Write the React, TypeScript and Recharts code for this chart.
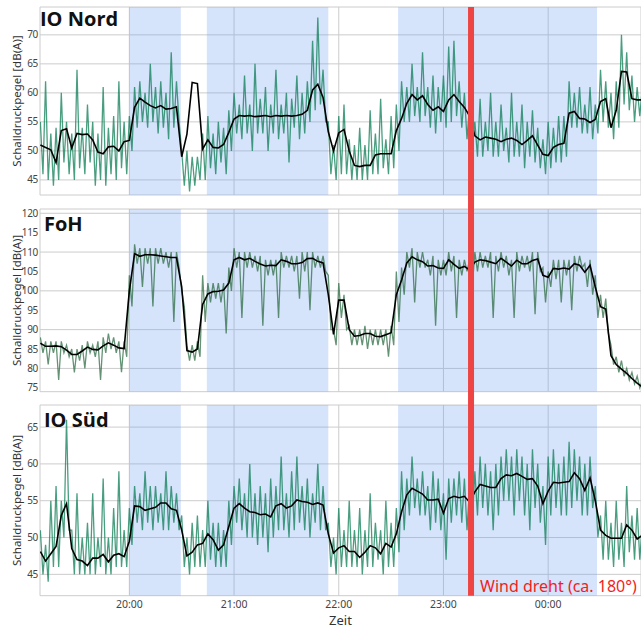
import {
  CartesianGrid,
  ComposedChart,
  Label,
  Line,
  ReferenceArea,
  ReferenceLine,
  XAxis,
  YAxis,
} from "recharts";

// time in minutes after 19:00
const avgStart = 9;
const avgStep = 3;
const rawStep = 1.5;

const xTicks = [60, 120, 180, 240, 300];
const xTickLabels = ["20:00", "21:00", "22:00", "23:00", "00:00"];
const busyPeriods = [
  [60, 89.5],
  [104.4, 174],
  [214, 328],
];
const windTurn = 255.8;
const windText = "Wind dreht (ca. 180°)";

const nordTicks = [45, 50, 55, 60, 65, 70];
const fohTicks = [75, 80, 85, 90, 95, 100, 105, 110, 115, 120];
const suedTicks = [45, 50, 55, 60, 65];

// smoothed level, every 3 min from 19:09
const nordAvg = [
  51.0, 50.6, 50.2, 48.0, 53.5, 53.8, 50.5, 53.0, 52.8, 52.9,
  51.9, 49.8, 49.5, 50.7, 50.8, 50.0, 51.6, 51.8, 57.5, 59.1,
  58.4, 57.8, 57.4, 57.8, 57.2, 57.3, 57.6, 49.0, 52.9, 61.8,
  61.6, 50.3, 51.9, 50.6, 50.5, 51.1, 53.2, 55.5, 56.1, 56.0,
  56.1, 55.9, 56.0, 56.1, 55.9, 56.1, 56.0, 56.1, 56.0, 56.1,
  56.3, 57.0, 60.5, 61.5, 59.2, 53.3, 50.0, 53.1, 53.7, 50.0,
  47.5, 47.3, 47.5, 47.5, 49.3, 49.5, 49.5, 49.5, 53.5, 55.6,
  58.2, 59.7, 58.8, 59.5, 58.0, 57.0, 57.6, 56.8, 58.8, 59.7,
  58.5, 57.5, 56.0, 52.6, 51.9, 52.4, 52.2, 52.0, 51.6, 52.0,
  52.2, 51.8, 51.1, 51.8, 52.6, 51.0, 49.4, 49.2, 50.6, 51.1,
  51.3, 56.5, 56.8, 55.6, 55.5, 54.9, 55.4, 58.5, 59.0, 54.0,
  57.0, 63.7, 63.6, 59.0, 58.8, 58.8,
];
const fohAvg = [
  86.5, 85.7, 85.7, 85.8, 85.6, 84.7, 83.6, 83.6, 84.5, 85.5,
  84.9, 84.8, 85.8, 86.6, 86.0, 85.3, 85.1, 100.0, 109.6, 108.9,
  109.3, 109.3, 109.2, 109.0, 108.8, 108.6, 108.6, 101.0, 84.6, 84.2,
  85.0, 96.5, 99.2, 99.8, 99.9, 100.2, 102.0, 108.0, 108.6, 108.0,
  108.4, 107.6, 106.9, 106.4, 106.6, 106.5, 108.0, 107.6, 107.0, 107.0,
  107.3, 108.3, 108.4, 107.6, 107.2, 99.0, 88.8, 97.6, 97.6, 90.0,
  88.3, 88.5, 89.0, 89.0, 88.3, 88.2, 88.7, 89.2, 99.0, 102.8,
  107.2, 108.8, 108.0, 107.5, 106.4, 106.5, 105.9, 105.8, 108.0, 106.8,
  105.8, 106.3, 105.4, 107.4, 108.0, 107.8, 107.4, 107.0, 108.4, 107.4,
  106.4, 107.9, 107.0, 107.0, 107.8, 108.2, 104.0, 103.5, 105.8, 105.6,
  105.9, 105.6, 107.0, 106.6, 104.8, 106.6, 101.0, 95.9, 95.3, 83.3,
  81.0, 79.8, 78.7, 77.4, 76.2, 75.2,
];
const suedAvg = [
  48.1, 46.8, 47.8, 48.8, 53.0, 54.6, 48.5, 47.0, 46.8, 46.2,
  47.2, 47.2, 47.7, 46.7, 47.6, 47.8, 47.4, 49.5, 54.3, 54.2,
  53.7, 53.9, 54.1, 54.7, 54.7, 53.9, 53.7, 51.0, 47.5, 48.0,
  49.0, 49.2, 50.5, 49.7, 48.3, 49.0, 51.5, 54.0, 54.6, 54.0,
  53.5, 53.4, 53.1, 53.2, 52.8, 54.3, 54.6, 54.0, 54.3, 55.1,
  54.9, 54.8, 54.5, 54.7, 54.4, 50.5, 47.9, 48.6, 48.9, 48.1,
  48.1, 47.3, 48.0, 48.9, 48.6, 47.8, 49.2, 48.7, 50.5, 53.5,
  55.8, 56.7, 56.3, 55.9, 55.1, 55.1, 55.2, 53.3, 55.3, 55.6,
  55.4, 55.6, 54.8, 56.2, 57.2, 57.0, 56.8, 56.8, 58.0, 58.5,
  58.4, 58.7, 58.3, 57.9, 58.0, 57.0, 54.6, 56.3, 57.5, 57.4,
  57.5, 57.6, 58.8, 58.0, 56.4, 58.1, 55.0, 51.0, 50.3, 49.9,
  49.9, 49.9, 51.7, 51.0, 49.8, 50.3,
];

// raw level, every 1.5 min from 19:09
const nordRaw = [
  55, 46, 62, 45, 53, 44, 54, 45, 60, 48, 55, 46, 53, 45, 64, 47, 54, 46, 58, 48,
  55, 44, 53, 45, 61, 44, 54, 46, 56, 45, 62, 47, 55, 46, 56, 50, 61, 54, 62, 55,
  60, 54, 65, 55, 61, 53, 62, 54, 60, 52, 67, 54, 62, 55, 50, 44, 50, 43, 49, 44,
  49, 45, 53, 45, 56, 47, 53, 46, 55, 48, 54, 46, 57, 50, 60, 53, 58, 52, 63, 53,
  58, 50, 65, 53, 59, 53, 61, 50, 58, 53, 64, 52, 58, 53, 60, 48, 59, 54, 63, 52,
  60, 53, 62, 55, 69, 57, 73, 58, 64, 55, 55, 46, 51, 45, 56, 46, 58, 46, 52, 45,
  51, 45, 54, 45, 51, 45, 57, 46, 53, 46, 59, 47, 52, 46, 56, 47, 58, 50, 62, 55,
  61, 55, 65, 56, 61, 55, 67, 56, 61, 54, 63, 53, 61, 55, 63, 54, 68, 55, 69, 56,
  62, 54, 60, 52, 58, 51, 55, 49, 59, 49, 55, 50, 60, 49, 55, 49, 58, 50, 54, 48,
  60, 49, 55, 49, 58, 47, 55, 49, 57, 48, 54, 47, 52, 46, 55, 47, 54, 48, 56, 48,
  56, 49, 62, 54, 60, 54, 61, 53, 58, 53, 61, 52, 58, 53, 64, 55, 62, 54, 60, 52,
  62, 54, 70, 58, 67, 57, 63, 55, 61, 56, 61, 56,
];
const fohRaw = [
  88, 84, 87, 81, 87, 84, 87, 77, 87, 84, 86, 83, 85, 79, 85, 82, 86, 80, 87, 84,
  86, 83, 87, 77, 88, 84, 89, 85, 88, 84, 87, 79, 87, 83, 104, 96, 112, 107, 111, 101,
  111, 107, 111, 96, 111, 107, 111, 107, 110, 106, 110, 92, 110, 106, 100, 96, 86, 82, 86, 82,
  87, 83, 104, 92, 102, 97, 102, 98, 102, 97, 102, 89, 106, 100, 111, 106, 110, 93, 110, 106,
  110, 106, 109, 105, 109, 91, 108, 104, 108, 104, 108, 93, 110, 106, 109, 106, 109, 105, 109, 98,
  110, 105, 110, 95, 110, 106, 109, 106, 109, 105, 104, 90, 90, 86, 102, 93, 99, 90, 91, 86,
  90, 86, 90, 86, 91, 85, 90, 86, 90, 86, 90, 86, 90, 83, 91, 86, 105, 92, 106, 99,
  110, 106, 111, 97, 110, 106, 110, 106, 108, 104, 109, 91, 108, 104, 108, 104, 110, 105, 109, 93,
  108, 104, 108, 105, 108, 101, 110, 105, 110, 106, 109, 106, 110, 93, 109, 105, 110, 106, 109, 104,
  108, 93, 110, 105, 109, 106, 109, 105, 110, 94, 110, 105, 106, 97, 105, 101, 108, 103, 108, 97,
  108, 104, 108, 95, 109, 105, 109, 106, 107, 101, 108, 99, 104, 93, 99, 93, 98, 89, 86, 81,
  83, 79, 82, 78, 80, 77, 79, 76, 78, 75, 77, 74,
];
const suedRaw = [
  51, 45, 49, 44, 55, 46, 57, 46, 55, 50, 66, 51, 51, 45, 56, 45, 50, 45, 52, 45,
  56, 45, 50, 46, 58, 45, 50, 45, 54, 46, 59, 46, 51, 46, 54, 49, 57, 52, 56, 51,
  59, 52, 57, 51, 57, 52, 56, 51, 59, 51, 57, 52, 56, 51, 53, 46, 50, 45, 52, 46,
  53, 46, 51, 46, 55, 47, 52, 46, 52, 46, 51, 46, 55, 49, 57, 52, 58, 51, 56, 50,
  60, 50, 56, 49, 57, 50, 56, 48, 58, 50, 57, 51, 61, 51, 56, 50, 59, 51, 61, 52,
  57, 51, 58, 50, 56, 52, 60, 51, 57, 51, 52, 46, 50, 45, 54, 46, 51, 46, 55, 46,
  51, 46, 54, 45, 51, 46, 56, 46, 52, 47, 51, 45, 55, 46, 52, 46, 54, 48, 59, 51,
  58, 53, 61, 54, 58, 53, 59, 53, 57, 51, 59, 52, 58, 51, 56, 47, 58, 52, 58, 53,
  59, 52, 58, 51, 57, 52, 59, 53, 61, 54, 60, 53, 59, 51, 60, 53, 61, 55, 62, 55,
  61, 53, 62, 55, 61, 53, 60, 51, 62, 54, 60, 52, 57, 49, 61, 53, 62, 54, 60, 53,
  61, 53, 63, 54, 62, 55, 61, 53, 60, 53, 61, 54, 57, 50, 53, 47, 55, 47, 52, 46,
  55, 47, 52, 46, 57, 48, 53, 47, 54, 47, 52, 47,
];

const toAvg = (values: number[]) =>
  values.map((v, i) => ({ t: avgStart + i * avgStep, v }));
const toRaw = (values: number[]) =>
  values.map((v, i) => ({ t: avgStart + i * rawStep, v }));

const WIDTH = 641;
const red = "#ef4444";

const windLabel = (props: any) => {
  const vb = props.viewBox ?? { x: 0, y: 0, width: 0, height: 0 };
  return (
    <text x={vb.x + 9} y={vb.y + vb.height - 4} fill="#f31d1d" fontSize={16}>
      {windText}
    </text>
  );
};

interface PanelProps {
  title: string;
  titleLeft: number;
  titleTop: number;
  avg: number[];
  raw: number[];
  rawColor: string;
  domain: [number, number];
  ticks: number[];
  height: number;
  margin: { top: number; right: number; bottom: number; left: number };
  wind: [number, number];
  showX?: boolean;
}

function Panel(p: PanelProps) {
  return (
    <div style={{ position: "relative", width: WIDTH, height: p.height }}>
      <ComposedChart width={WIDTH} height={p.height} margin={p.margin}>
        {busyPeriods.map(([a, b]) => (
          <ReferenceArea
            key={a}
            x1={a}
            x2={b}
            fill="#6f9ff0"
            fillOpacity={0.29}
            stroke="none"
            ifOverflow="hidden"
          />
        ))}
        <CartesianGrid stroke="#cccccc" />
        <XAxis
          type="number"
          dataKey="t"
          domain={[8.8, 353.2]}
          allowDataOverflow
          ticks={xTicks}
          tickFormatter={(v) => xTickLabels[xTicks.indexOf(v)] ?? ""}
          hide={!p.showX}
          height={34.3}
          tickSize={0}
          tickMargin={5}
          axisLine={false}
          tickLine={false}
          tick={{ fontSize: 10.5, fill: "#444" }}
        >
          {p.showX && (
            <Label
              value="Zeit"
              position="insideBottom"
              offset={5}
              style={{ fontSize: 13, fill: "#333" }}
            />
          )}
        </XAxis>
        <YAxis
          type="number"
          domain={p.domain}
          allowDataOverflow
          ticks={p.ticks}
          width={40}
          tickSize={0}
          tickMargin={2}
          axisLine={false}
          tickLine={false}
          tick={{ fontSize: 10, fill: "#444", letterSpacing: -0.3 }}
          label={{
            value: "Schalldruckpegel [dB(A)]",
            angle: -90,
            position: "insideLeft",
            offset: 16.5,
            style: { textAnchor: "middle", fontSize: 11.5, fill: "#333" },
          }}
        />
        <Line
          data={toRaw(p.raw)}
          dataKey="v"
          type="linear"
          stroke={p.rawColor}
          strokeWidth={1.3}
          strokeOpacity={0.75}
          dot={false}
          activeDot={false}
          isAnimationActive={false}
        />
        <Line
          data={toAvg(p.avg)}
          dataKey="v"
          type="linear"
          stroke="#000"
          strokeWidth={1.6}
          dot={false}
          activeDot={false}
          isAnimationActive={false}
        />
        <ReferenceLine
          segment={[
            { x: windTurn, y: p.wind[0] },
            { x: windTurn, y: p.wind[1] },
          ]}
          stroke={red}
          strokeWidth={6}
          ifOverflow="visible"
          label={p.showX ? { content: windLabel } : undefined}
        />
      </ComposedChart>
      <div
        style={{
          position: "absolute",
          left: p.titleLeft,
          top: p.titleTop,
          fontFamily: "'Open Sans', sans-serif",
          fontWeight: 700,
          fontSize: 20,
          lineHeight: "20px",
          color: "#111",
        }}
      >
        {p.title}
      </div>
    </div>
  );
}

export default function App() {
  return (
    <div
      style={{
        position: "absolute",
        left: 0,
        top: 0,
        width: WIDTH,
        height: 630,
        background: "#fff",
        fontFamily: "'Noto Sans', sans-serif",
      }}
    >
      <Panel
        title="IO Nord"
        titleLeft={40}
        titleTop={9}
        avg={nordAvg}
        raw={nordRaw}
        rawColor="#0e7d55"
        domain={[42.4, 74.8]}
        ticks={nordTicks}
        height={202}
        margin={{ top: 7, right: 0, bottom: 7, left: 0 }}
        wind={[74.8, 38]}
      />
      <Panel
        title="FoH"
        titleLeft={44}
        titleTop={12}
        avg={fohAvg}
        raw={fohRaw}
        rawColor="#2f6e45"
        domain={[74.0, 121.1]}
        ticks={fohTicks}
        height={196}
        margin={{ top: 7, right: 0, bottom: 6.3, left: 0 }}
        wind={[125, 70]}
      />
      <Panel
        title="IO Süd"
        titleLeft={44}
        titleTop={12}
        avg={suedAvg}
        raw={suedRaw}
        rawColor="#0e7d55"
        domain={[42.1, 68.0]}
        ticks={suedTicks}
        height={232}
        margin={{ top: 7, right: 0, bottom: 0, left: 0 }}
        wind={[70, 42.1]}
        showX
      />
    </div>
  );
}
